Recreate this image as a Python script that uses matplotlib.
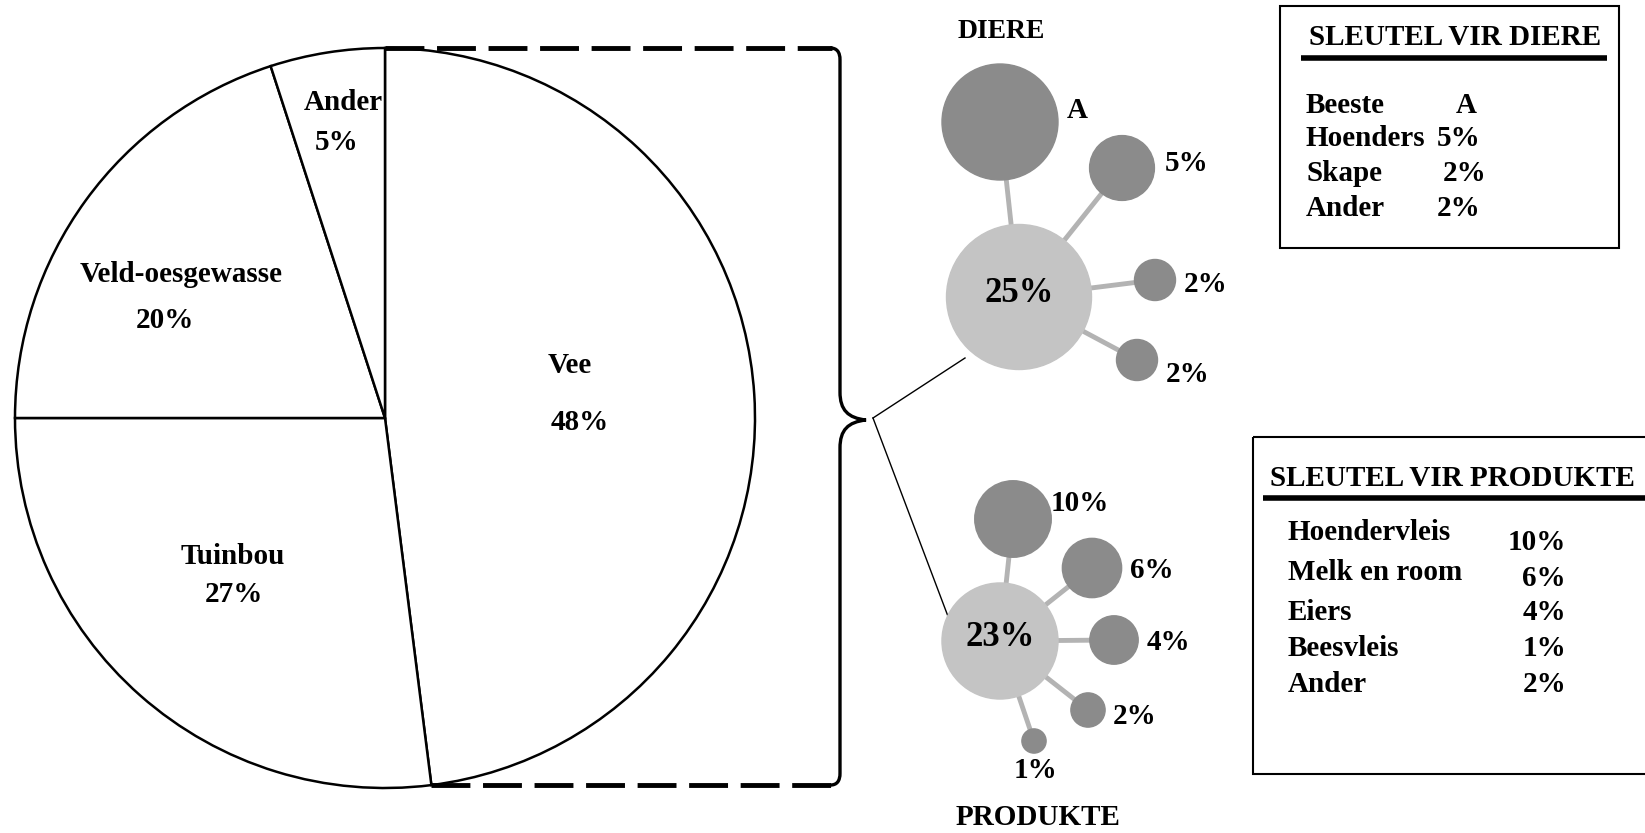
import numpy as np
import matplotlib
matplotlib.use('Agg')
import matplotlib.pyplot as plt
from matplotlib.patches import Circle, Rectangle, PathPatch
from matplotlib.path import Path

plt.rcParams['font.family'] = ['Liberation Serif', 'DejaVu Serif']
plt.rcParams['font.weight'] = 'bold'

W, H = 1645, 833

# --- data ---
sektore = ['Vee', 'Tuinbou', 'Veld-oesgewasse', 'Ander']
sektor_pct = [48, 27, 20, 5]

diere_totaal = 25
diere_naam = ['Beeste', 'Hoenders', 'Skape', 'Ander']
diere_etiket = ['A', '5%', '2%', '2%']
diere_pct = [16, 5, 2, 2]          # A = 25 - 5 - 2 - 2

produkte_totaal = 23
produkte_naam = ['Hoendervleis', 'Melk en room', 'Eiers', 'Beesvleis', 'Ander']
produkte_pct = [10, 6, 4, 1, 2]

# --- layout (pixels, y down) ---
pie_c = (385, 418)
pie_r = 370
pie_lbl_pos = [[(570, 365), (580, 422)],
               [(233, 557), (234, 595)],
               [(181, 275), (165, 320)],
               [(343, 102), (337, 142)]]
brace_x = 840
brace_tip = (866, 420)

diere_c = (1019, 297)
diere_k = 14.5
diere_off = [(-19, -175), (103, -129), (136, -17), (118, 63)]
diere_lbl = [(1077, 110), (1187, 163), (1206, 285), (1188, 374)]

prod_c = (1000, 641)
prod_k = 12.1
prod_off = [(13, -122), (92, -73), (114, -1), (34, 100), (88, 69)]
prod_lbl = [(1080, 503), (1152, 570), (1168, 643), (1036, 770), (1135, 717)]

licht = '#c4c4c4'
donker = '#8b8b8b'
stok = '#b3b3b3'
fs = 21

fig = plt.figure(figsize=(W / 100, H / 100), dpi=100)
ax = fig.add_axes([0, 0, 1, 1])

# pie (y axis inverted -> counterclock=True draws clockwise on screen)
wedges, _ = ax.pie(sektor_pct, startangle=-90, counterclock=True,
                   center=pie_c, radius=pie_r, colors=['white'] * 4,
                   wedgeprops=dict(edgecolor='black', linewidth=1.8))
for naam, pct, (p1, p2) in zip(sektore, sektor_pct, pie_lbl_pos):
    ax.text(p1[0], p1[1], naam, ha='center', va='center', fontsize=fs, fontweight='bold')
    ax.text(p2[0], p2[1], '%d%%' % pct, ha='center', va='center', fontsize=fs, fontweight='bold')

# dashed lines from the Vee slice to the brace
top = (pie_c[0], pie_c[1] - pie_r)
th = np.deg2rad(wedges[0].theta2)
bot = (pie_c[0] + pie_r * np.cos(th), pie_c[1] + pie_r * np.sin(th))
for p in (top, bot):
    ax.plot([p[0], brace_x - 8], [p[1], p[1]], color='black', lw=3.5,
            dashes=(8, 2.6), solid_capstyle='butt', dash_capstyle='butt')

# brace
y0, y1 = top[1], bot[1]
ty = brace_tip[1]
verts = [(brace_x - 10, y0), (brace_x - 3, y0), (brace_x, y0 + 4), (brace_x, y0 + 12),
         (brace_x, ty - 28),
         (brace_x, ty - 10), (brace_x + 8, ty - 2), brace_tip,
         (brace_x + 8, ty + 2), (brace_x, ty + 10), (brace_x, ty + 28),
         (brace_x, y1 - 12),
         (brace_x, y1 - 4), (brace_x - 3, y1), (brace_x - 10, y1)]
codes = [Path.MOVETO, Path.CURVE4, Path.CURVE4, Path.CURVE4, Path.LINETO,
         Path.CURVE4, Path.CURVE4, Path.CURVE4,
         Path.CURVE4, Path.CURVE4, Path.CURVE4, Path.LINETO,
         Path.CURVE4, Path.CURVE4, Path.CURVE4]
ax.add_patch(PathPatch(Path(verts, codes), fill=False, lw=2.4, edgecolor='black'))

# thin lines from brace tip to the two bubble groups
ax.plot([873, 965], [418, 358], color='black', lw=1)
ax.plot([873, 949], [418, 619], color='black', lw=1)


def bubbles(c, k, total, vals, offs, labels, lpos, big_fs):
    R = k * np.sqrt(total)
    for (dx, dy) in offs:
        ax.plot([c[0], c[0] + dx], [c[1], c[1] + dy], color=stok, lw=3.5, zorder=2)
    ax.add_patch(Circle(c, R, color=licht, zorder=3))
    ax.text(c[0], c[1] - 4, '%d%%' % total, ha='center', va='center',
            fontsize=big_fs, fontweight='bold', zorder=5)
    for v, (dx, dy), lab, lp in zip(vals, offs, labels, lpos):
        ax.add_patch(Circle((c[0] + dx, c[1] + dy), k * np.sqrt(v), color=donker, zorder=3))
        ax.text(lp[0], lp[1], lab, ha='center', va='center', fontsize=fs, fontweight='bold')


bubbles(diere_c, diere_k, diere_totaal, diere_pct, diere_off, diere_etiket, diere_lbl, 25)
bubbles(prod_c, prod_k, produkte_totaal, produkte_pct, prod_off,
        ['%d%%' % v for v in produkte_pct], prod_lbl, 25)

ax.text(1001, 31, 'DIERE', ha='center', va='center', fontsize=20, fontweight='bold')
ax.text(1038, 831, 'PRODUKTE', ha='center', va='bottom', fontsize=fs, fontweight='bold')

# key for animals
ax.add_patch(Rectangle((1280, 6), 339, 242, fill=False, lw=1.5, edgecolor='black'))
ax.text(1455, 37, 'SLEUTEL VIR DIERE', ha='center', va='center', fontsize=fs, fontweight='bold')
ax.plot([1301, 1607], [58, 58], color='black', lw=4, solid_capstyle='butt')
diere_rye = [105, 138, 173, 208]
diere_vx = [1456, 1437, 1443, 1437]
for naam, lab, y, vx in zip(diere_naam, diere_etiket, diere_rye, diere_vx):
    ax.text(1306, y, naam, ha='left', va='center', fontsize=fs, fontweight='bold')
    ax.text(vx, y, lab, ha='left', va='center', fontsize=fs, fontweight='bold')

# key for products
ax.add_patch(Rectangle((1253, 437), 420, 337, fill=False, lw=1.5, edgecolor='black',
                       clip_on=True))
ax.text(1270, 478, 'SLEUTEL VIR PRODUKTE', ha='left', va='center', fontsize=fs, fontweight='bold')
ax.plot([1263, W + 10], [498, 498], color='black', lw=4, solid_capstyle='butt')
prod_rye = [532, 573, 613, 648, 684]
prod_vy = [542, 578, 613, 648, 685]
for naam, v, y, vy in zip(produkte_naam, produkte_pct, prod_rye, prod_vy):
    ax.text(1288, y, naam, ha='left', va='center', fontsize=fs, fontweight='bold')
    ax.text(1566, vy, '%d%%' % v, ha='right', va='center', fontsize=fs, fontweight='bold')

ax.set_xlim(0, W)
ax.set_ylim(H, 0)
ax.set_aspect('equal')
ax.axis('off')

fig.savefig('out.png', dpi=100, facecolor='white')
